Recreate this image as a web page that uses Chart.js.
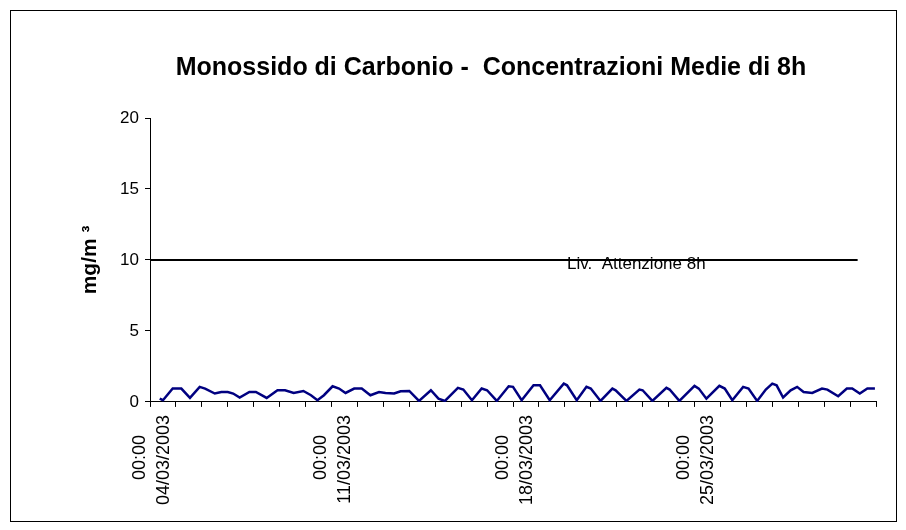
<!DOCTYPE html>
<html>
<head>
<meta charset="utf-8">
<script src="https://cdn.jsdelivr.net/npm/chart.js@4.4.1/dist/chart.umd.min.js"></script>
<style>
  body { margin: 0; background: #fff; }
  #frame { position: absolute; left: 10px; top: 10px; width: 885px; height: 510px; border: 1px solid #000; }
</style>
</head>
<body>
<div id="frame"><canvas id="myChart" width="885" height="510"></canvas></div>
<script>
// hours since 04/03/2003 00:00 and the 8h mean CO (mg/m3)
const hours = [9, 12, 21, 29, 37, 46, 51, 60, 66, 72, 77, 83, 92, 98, 108, 118, 125, 133,
  142, 149, 155, 161, 169, 175, 181, 189, 196, 204, 212, 218, 226, 232, 240, 249, 260, 267,
  273, 285, 290, 298, 307, 312, 321, 332, 336, 344, 355, 361, 370, 383, 386, 395, 404, 408,
  417, 428, 431, 441, 453, 456, 465, 478, 481, 490, 504, 508, 515, 527, 532, 539, 549, 554,
  562, 570, 576, 580, 586, 593, 599, 605, 613, 622, 627, 637, 645, 650, 657, 664, 671];
const coValues = [0.23, 0.12, 0.94, 0.94, 0.28, 1.06, 0.94, 0.59, 0.70, 0.70, 0.59, 0.30, 0.70, 0.70, 0.28, 0.82, 0.82, 0.63,
  0.77, 0.47, 0.12, 0.47, 1.10, 0.94, 0.63, 0.94, 0.94, 0.47, 0.70, 0.63, 0.59, 0.75, 0.77, 0.07, 0.82, 0.23,
  0.07, 0.99, 0.87, 0.12, 0.94, 0.82, 0.07, 1.10, 1.06, 0.12, 1.17, 1.17, 0.12, 1.29, 1.17, 0.12, 1.06, 0.94,
  0.07, 0.94, 0.82, 0.07, 0.87, 0.82, 0.07, 0.99, 0.87, 0.07, 1.13, 0.94, 0.23, 1.13, 0.94, 0.12, 1.06, 0.94,
  0.07, 0.87, 1.29, 1.17, 0.31, 0.82, 1.06, 0.70, 0.63, 0.94, 0.87, 0.40, 0.94, 0.94, 0.59, 0.94, 0.94];

// attention level line
const limitHours = [0, 655];
const limitValues = [10, 10];
const noteText = "Liv.  Attenzione 8h";
const noteHour = 386;

// x axis labels
const labelHours = [0, 168, 336, 504];
const labelTimes = ["00:00", "00:00", "00:00", "00:00"];
const labelDates = ["04/03/2003", "11/03/2003", "18/03/2003", "25/03/2003"];
const yTicks = [0, 5, 10, 15, 20];

const FONT = "Arial, 'Liberation Sans', sans-serif";

const noteLabel = {
  id: "noteLabel",
  afterDatasetsDraw(chart) {
    const { ctx, scales: { x, y } } = chart;
    ctx.save();
    ctx.font = "17px " + FONT;
    ctx.fillStyle = "#000";
    ctx.textBaseline = "middle";
    ctx.fillText(noteText, x.getPixelForValue(noteHour), y.getPixelForValue(limitValues[0]) + 4);
    ctx.restore();
  },
};

new Chart(document.getElementById("myChart"), {
  type: "line",
  data: {
    datasets: [
      {
        data: hours.map((h, i) => ({ x: h, y: coValues[i] })),
        borderColor: "#000080",
        borderWidth: 2.5,
        pointRadius: 0,
        tension: 0,
      },
      {
        data: limitHours.map((h, i) => ({ x: h, y: limitValues[i] })),
        borderColor: "#000",
        borderWidth: 2,
        pointRadius: 0,
      },
    ],
  },
  options: {
    responsive: false,
    animation: false,
    layout: { padding: { left: 95, right: 20, top: 0, bottom: 8 } },
    plugins: {
      legend: { display: false },
      tooltip: { enabled: false },
      title: {
        display: true,
        text: "Monossido di Carbonio -  Concentrazioni Medie di 8h",
        color: "#000",
        font: { family: FONT, size: 25, weight: "bold" },
        padding: { top: 42, bottom: 35 },
      },
    },
    scales: {
      x: {
        type: "linear",
        min: 0,
        max: 672,
        afterFit: (scale) => { scale.paddingLeft = 0; scale.paddingRight = 0; },
        grid: { drawOnChartArea: false, drawTicks: true, tickLength: 5, color: "#000" },
        border: { display: true, color: "#000", width: 1 },
        ticks: {
          stepSize: 24,
          autoSkip: false,
          minRotation: 90,
          maxRotation: 90,
          labelOffset: -10,
          padding: 8,
          color: "#000",
          font: { family: FONT, size: 18, lineHeight: 1.333 },
          callback: (value) => {
            const i = labelHours.indexOf(value);
            return i >= 0 ? [labelTimes[i] + "    ", labelDates[i]] : "";
          },
        },
      },
      y: {
        min: yTicks[0],
        max: yTicks[yTicks.length - 1],
        afterFit: (scale) => { scale.width = 44; },
        grid: { drawOnChartArea: false, drawTicks: true, tickLength: 5, color: "#000" },
        border: { display: true, color: "#000", width: 1 },
        ticks: {
          stepSize: 5,
          padding: 6,
          color: "#000",
          font: { family: FONT, size: 17 },
        },
        title: {
          display: true,
          text: "mg/m \u00b3",
          color: "#000",
          font: { family: FONT, size: 21, weight: "bold" },
          padding: { top: -28, bottom: 0 },
        },
      },
    },
  },
  plugins: [noteLabel],
});
</script>
</body>
</html>
